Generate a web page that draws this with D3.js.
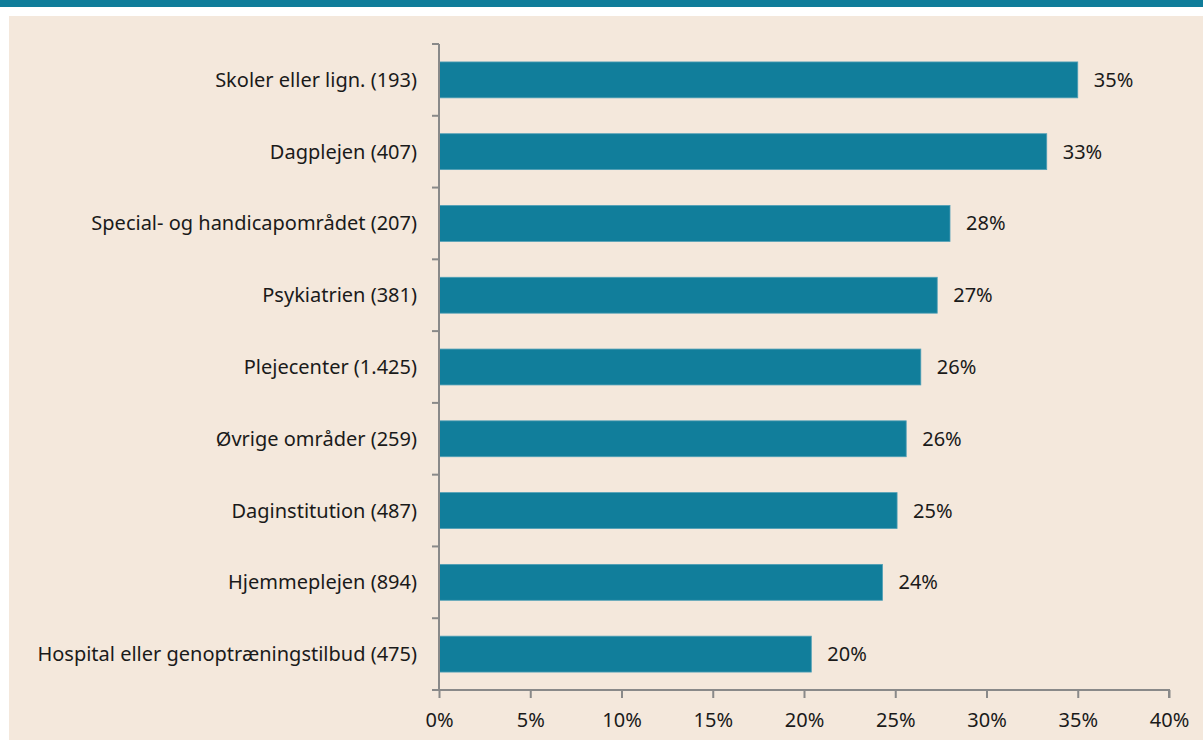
<!DOCTYPE html>
<html>
<head>
<meta charset="utf-8">
<script src="https://cdn.jsdelivr.net/npm/d3@7"></script>
<style>
  html, body { margin: 0; padding: 0; background: #fff; }
  svg { display: block; }
  text { font-family: "Noto Sans", "Open Sans", sans-serif; fill: #1a1a1a; }
</style>
</head>
<body>
<div id="chart"></div>
<script>
const categories = [
    'Skoler eller lign. (193)',
    'Dagplejen (407)',
    'Special- og handicapområdet (207)',
    'Psykiatrien (381)',
    'Plejecenter (1.425)',
    'Øvrige områder (259)',
    'Daginstitution (487)',
    'Hjemmeplejen (894)',
    'Hospital eller genoptræningstilbud (475)'
];
const values = [35.0, 33.3, 28.0, 27.3, 26.4, 25.6, 25.1, 24.3, 20.4];
const valueLabels = ['35%', '33%', '28%', '27%', '26%', '26%', '25%', '24%', '20%'];
const xTicks = [0, 5, 10, 15, 20, 25, 30, 35, 40];

const width = 1203, height = 742;
const margin = { top: 44, right: 34, bottom: 52, left: 439 };
const fontSize = 20;

const svg = d3.select('#chart')
    .append('svg')
    .attr('width', width)
    .attr('height', height);

// top stripe and panel
svg.append('rect').attr('x', 0).attr('y', 0).attr('width', width).attr('height', 7).attr('fill', '#107d9a');
svg.append('rect').attr('x', 9).attr('y', 16).attr('width', width - 9).attr('height', 724).attr('fill', '#f4e8dc');

const x = d3.scaleLinear().domain([0, 40]).range([margin.left, width - margin.right]);
const y = d3.scaleBand().domain(categories).range([margin.top, height - margin.bottom])
    .paddingInner(0.5).paddingOuter(0.25);

const g = svg.append('g');

// bars
g.selectAll('rect.bar')
    .data(categories)
    .enter()
    .append('rect')
    .attr('class', 'bar')
    .attr('x', x(0))
    .attr('y', d => y(d))
    .attr('width', (d, i) => x(values[i]) - x(0))
    .attr('height', y.bandwidth())
    .attr('fill', '#117e9b')
    .attr('stroke', '#4f9fb6')
    .attr('stroke-width', 0.8);

// value labels
g.selectAll('text.val')
    .data(categories)
    .enter()
    .append('text')
    .attr('class', 'val')
    .attr('x', (d, i) => x(values[i]) + 16)
    .attr('y', d => y(d) + y.bandwidth() / 2)
    .attr('dy', '0.35em')
    .attr('font-size', fontSize)
    .text((d, i) => valueLabels[i]);

const axisColor = '#898989';

// y axis: line with ticks at band boundaries
const yAxis = svg.append('g');
yAxis.append('line')
    .attr('x1', x(0)).attr('x2', x(0))
    .attr('y1', margin.top).attr('y2', height - margin.bottom)
    .attr('stroke', axisColor).attr('stroke-width', 2);
const step = y.step();
const boundaries = d3.range(categories.length + 1).map(i => margin.top + i * step);
yAxis.selectAll('line.tk')
    .data(boundaries)
    .enter()
    .append('line')
    .attr('class', 'tk')
    .attr('x1', x(0) - 7).attr('x2', x(0))
    .attr('y1', d => d).attr('y2', d => d)
    .attr('stroke', axisColor).attr('stroke-width', 2);
yAxis.selectAll('text.cat')
    .data(categories)
    .enter()
    .append('text')
    .attr('class', 'cat')
    .attr('x', x(0) - 22)
    .attr('y', d => y(d) + y.bandwidth() / 2)
    .attr('dy', '0.35em')
    .attr('text-anchor', 'end')
    .attr('font-size', fontSize)
    .text(d => d);

// x axis
const xAxis = svg.append('g')
    .attr('transform', `translate(0,${height - margin.bottom})`)
    .call(d3.axisBottom(x).tickValues(xTicks).tickSize(8).tickPadding(15).tickFormat(d => d + '%'));
xAxis.select('.domain').attr('stroke', axisColor).attr('stroke-width', 2).attr('d', `M${x(0) - 7},0H${x(40)}V8`);
xAxis.selectAll('.tick line').attr('stroke', axisColor).attr('stroke-width', 2);
xAxis.selectAll('.tick text').attr('font-size', fontSize).attr('fill', '#1a1a1a')
    .attr('font-family', '"Noto Sans", "Open Sans", sans-serif');
</script>
</body>
</html>
